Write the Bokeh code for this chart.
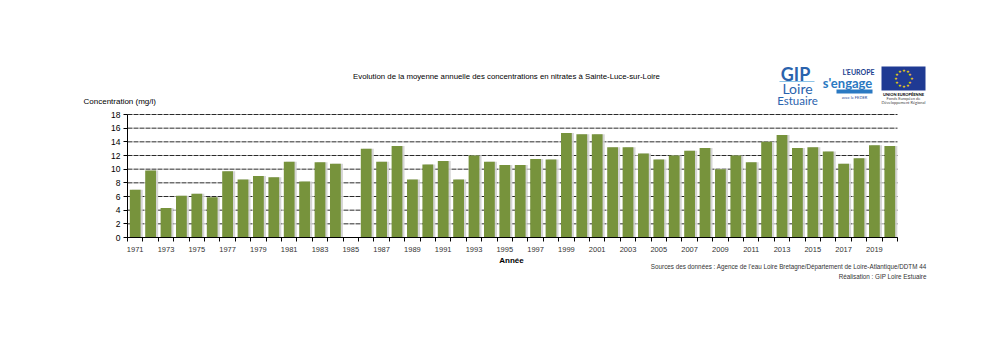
from bokeh.plotting import figure
from bokeh.models import Range1d, FixedTicker, Label, BoxAnnotation, ColumnDataSource
from bokeh.transform import dodge
from bokeh.embed import file_html
from bokeh.resources import INLINE
import math

# ---------------- data ----------------
years = list(range(1971, 2021))
nitrates = [7.0, 9.8, 4.3, 6.1, 6.4, 5.9, 9.7, 8.5, 9.0, 8.8,
            11.1, 8.2, 11.0, 10.8, None, 13.0, 11.1, 13.4, 8.5, 10.7,
            11.2, 8.5, 12.0, 11.1, 10.6, 10.6, 11.5, 11.4, 15.3, 15.1,
            15.1, 13.2, 13.2, 12.3, 11.4, 12.0, 12.7, 13.1, 10.0, 12.0,
            11.0, 14.0, 15.0, 13.1, 13.2, 12.6, 10.8, 11.6, 13.5, 13.4]
label_years = list(range(1971, 2021, 2))
y_ticks = list(range(0, 19, 2))
y_max = 18

title_text = "Evolution de la moyenne annuelle des concentrations en nitrates à Sainte-Luce-sur-Loire"
y_title = "Concentration  (mg/l)"
x_title = "Année"
source_line1 = "Sources des données : Agence de l'eau Loire Bretagne/Département de Loire-Atlantique/DDTM 44"
source_line2 = "Réalisation : GIP Loire Estuaire"

# ---------------- layout ----------------
W, H = 1000, 350
BL, BB = 40, 40                     # side panels (hold the axes' space)
FL, FR, FT, FB = 127, 897, 114, 237  # where the data area sits on the canvas
FONT = "Liberation Sans"
BAR = "#77933c"

XW = (FR - FL) / len(years)
YS = (FB - FT) / y_max
x0 = years[0] - 0.5
x1 = years[-1] + 0.5


def px2x(px):
    return x0 + (px - FL) / XW


def py2y(py):
    return (FB - py) / YS


xs = [y for y, v in zip(years, nitrates) if v is not None]
vs = [v for v in nitrates if v is not None]
src = ColumnDataSource(dict(year=xs, value=vs))

p = figure(width=W, height=H, output_backend="svg", toolbar_location=None, title=None,
           x_range=Range1d(px2x(BL), px2x(W)), y_range=Range1d(py2y(H - BB), py2y(0)),
           min_border_left=BL, min_border_right=0, min_border_top=0, min_border_bottom=BB)
p.outline_line_color = None
p.xgrid.grid_line_color = None
p.ygrid.grid_line_color = None

# grid lines (dark dashed) limited to the data area
p.segment(x0=[x0] * len(y_ticks), x1=[x1] * len(y_ticks), y0=y_ticks, y1=y_ticks,
          line_color="#2a2a2a", line_dash="5 1", line_width=1)

# shadow + bars
p.vbar(x=dodge("year", 0.14, range=p.x_range), top="value", bottom=0, width=0.7, source=src,
       fill_color="#d0d0d0", line_color=None, fill_alpha=0.9)
p.vbar(x="year", top="value", bottom=0, width=0.7, source=src,
       fill_color=BAR, line_color=None)

# axes, fixed at the data area's edges
p.yaxis.fixed_location = x0
p.yaxis.bounds = (0, y_max)
p.yaxis.ticker = FixedTicker(ticks=y_ticks)
p.yaxis.major_tick_out = 4
p.yaxis.major_tick_in = 0
p.yaxis.minor_tick_line_color = None
p.yaxis.axis_line_color = "black"
p.yaxis.major_label_text_font = FONT
p.yaxis.major_label_text_font_size = "8.5px"
p.yaxis.major_label_text_color = "black"
p.yaxis.major_label_standoff = 3

p.xaxis.fixed_location = 0
p.xaxis.bounds = (x0, x1)
p.xaxis.ticker = FixedTicker(ticks=label_years, minor_ticks=[y - 0.5 for y in years] + [x1])
p.xaxis.major_tick_out = 0
p.xaxis.major_tick_in = 0
p.xaxis.minor_tick_out = 4
p.xaxis.minor_tick_in = 0
p.xaxis.minor_tick_line_color = "black"
p.xaxis.axis_line_color = "black"
p.xaxis.major_label_text_font = FONT
p.xaxis.major_label_text_font_size = "7.5px"
p.xaxis.major_label_text_color = "#333333"
p.xaxis.major_label_standoff = 5


def lab(text, px, py, size, align="left", bold=False, color="black", font=FONT):
    p.add_layout(Label(x=px2x(px), y=py2y(py), text=text, text_align=align,
                       text_baseline="middle", text_font=font,
                       text_font_size=size, text_color=color,
                       text_font_style="bold" if bold else "normal"))


def box(l, r, t, b, color):
    p.add_layout(BoxAnnotation(left=px2x(l), right=px2x(r), top=py2y(t), bottom=py2y(b),
                               fill_color=color, fill_alpha=1, line_color=None, level="underlay"))


lab(title_text, 506, 76, "7.8px", align="center")
lab(y_title, 83, 101, "8px")
lab(x_title, 511, 260, "8px", align="center", bold=True)
lab(source_line1, 926, 266, "6.3px", align="right", color="#333333")
lab(source_line2, 926, 276, "6.3px", align="right", color="#333333")

# ---- logos (approximations) ----
GIPBLUE = "#2a63ad"
lab("GIP", 795, 73, "18px", align="center", bold=True, color=GIPBLUE, font="Lato")
box(779, 814, 80.5, 81.5, "#8cc4e8")
lab("Loire", 797, 88, "14px", align="center", color=GIPBLUE, font="Lato")
lab("Estuaire", 797, 100, "11.5px", align="center", color=GIPBLUE, font="Lato")

lab("L'EUROPE", 858, 71, "7px", align="center", bold=True, color="#1d3f8f", font="Lato")
lab("s'engage", 847, 82, "13px", align="center", bold=True, color="#2a79c2", font="Lato")
box(836, 872, 89, 93, "#2a79c2")
lab("avec le FEDER", 854, 97, "4px", align="center", color="#1d3f8f", font="Lato")

box(881, 925, 66, 90, "#1f3a93")
cx, cy, r = 903, 78, 8
for k in range(12):
    a = 2 * math.pi * k / 12
    lab("★", cx + r * math.cos(a), cy + r * math.sin(a), "4px", align="center", color="#ffdd00")
lab("UNION EUROPÉENNE", 903, 94, "4px", align="center", bold=True, font="Lato")
lab("Fonds Européen de", 903, 98, "4px", align="center", color="#444444", font="Lato")
lab("Développement Régional", 903, 102, "4px", align="center", color="#444444", font="Lato")

open("out.html", "w").write(file_html(p, INLINE))
